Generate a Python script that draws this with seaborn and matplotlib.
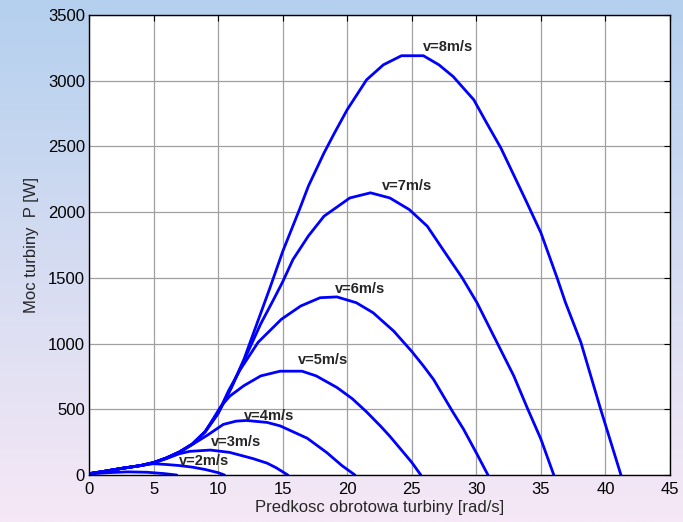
import numpy as np
import pandas as pd
import matplotlib
matplotlib.use("Agg")
import matplotlib.pyplot as plt
import seaborn as sns

# --- data (omega [rad/s], P [W]) ---
w_v1 = [0, 1.5, 3.0, 4.5, 5.8, 6.8]
p_v1 = [8, 18, 24, 21, 11, 0]

w_v2 = [0, 1, 2.5, 4, 5, 6, 7, 8, 9, 10, 10.5]
p_v2 = [10, 25, 50, 72, 86, 80, 72, 60, 42, 18, 0]

w_v3 = [0, 1, 2.5, 4, 5, 6, 7, 7.8, 9.4, 10.9, 12.7, 13.8, 14.5, 15.4]
p_v3 = [10, 25, 50, 72, 92, 125, 162, 180, 190, 172, 125, 90, 55, 0]

w_v4 = [0, 1, 2.5, 4, 5, 6, 7, 8, 9.2, 10.4, 11.4, 12.2, 13.8, 14.8, 16.9, 18.4, 19.6, 20.6]
p_v4 = [10, 25, 50, 72, 93, 128, 172, 232, 305, 385, 410, 415, 400, 374, 280, 172, 71, 0]

w_v5 = [0, 1, 2.5, 4, 5, 6, 7, 8, 9, 10.2, 10.9, 12.0, 13.3, 14.8, 16.5, 17.6, 19.2, 20.4, 21.5,
        22.6, 23.3, 24.2, 25.0, 25.7]
p_v5 = [10, 25, 50, 72, 94, 130, 175, 235, 330, 520, 600, 680, 754, 790, 790, 754, 666, 580, 480,
        370, 295, 190, 96, 0]

w_v6 = [0, 1, 2.5, 4, 5, 6, 7, 8, 9, 10, 10.8, 11.7, 13.1, 14.9, 16.4, 17.9, 19.2, 20.7, 22.0,
        23.6, 25.0, 25.9, 26.7, 27.3, 28.2, 29.0, 30.05, 30.9]
p_v6 = [10, 25, 50, 72, 95, 130, 175, 235, 330, 470, 640, 800, 1010, 1185, 1286, 1349, 1355, 1311, 1235,
        1095, 940, 830, 725, 625, 476, 350, 159, 0]

w_v7 = [0, 1, 2.5, 4, 5, 6, 7, 8, 9, 10, 11, 12, 13.3, 14.3, 15.0, 15.8, 17.0, 18.2, 20.2, 21.8,
        23.3, 24.8, 26.2, 27.5, 28.9, 30.05, 31.6, 32.9, 33.95, 35.0, 36.0]
p_v7 = [10, 25, 50, 72, 95, 130, 175, 235, 330, 470, 660, 870, 1150, 1336, 1470, 1640, 1820, 1969, 2108, 2147,
        2108, 2020, 1893, 1703, 1501, 1311, 1008, 754, 509, 273, 0]

w_v8 = [0, 1, 2.5, 4, 5, 6, 7, 8, 9, 10, 11, 12, 13, 14, 15, 16.3, 17, 18.2, 19, 20, 21.5, 22.8,
        24.2, 25.9, 27.1, 28.2, 29.8, 30.8, 31.9, 33.8, 35.0, 36.25, 36.9, 38.1, 39.6, 41.2]
p_v8 = [10, 25, 50, 72, 95, 130, 175, 235, 330, 470, 660, 880, 1150, 1420, 1700, 2020, 2200, 2450, 2600,
        2780, 3007, 3121, 3190, 3190, 3121, 3032, 2855, 2678, 2488, 2096, 1843, 1501, 1313, 1008, 509, 0]

speeds = [1, 2, 3, 4, 5, 6, 7, 8]
curve_w = [w_v1, w_v2, w_v3, w_v4, w_v5, w_v6, w_v7, w_v8]
curve_p = [p_v1, p_v2, p_v3, p_v4, p_v5, p_v6, p_v7, p_v8]

# labels: text, left x, centre y
label_txt = ["v=2m/s", "v=3m/s", "v=4m/s", "v=5m/s", "v=6m/s", "v=7m/s", "v=8m/s"]
label_x = [6.95, 9.43, 12.0, 16.2, 19.07, 22.7, 25.9]
label_y = [104, 248, 450, 875, 1412, 2197, 3255]

xticks = [0, 5, 10, 15, 20, 25, 30, 35, 40, 45]
yticks = [0, 500, 1000, 1500, 2000, 2500, 3000, 3500]

rows = []
for v, ws, ps in zip(speeds, curve_w, curve_p):
    for i, (w, p) in enumerate(zip(ws, ps)):
        rows.append({"v": v, "idx": i, "w": w, "P": p})
df = pd.DataFrame(rows)

sns.set_style("white")
plt.rcParams['font.family'] = ['Liberation Sans', 'DejaVu Sans']

fig = plt.figure(figsize=(6.83, 5.22), dpi=100)

# gradient background (light blue -> light pink)
bg = fig.add_axes([0, 0, 1, 1], zorder=-10)
top = np.array([180, 208, 238]) / 255.0
bot = np.array([246, 232, 246]) / 255.0
t = np.linspace(0, 1, 256)[:, None]
grad = (top[None, :] * (1 - t) + bot[None, :] * t)[:, None, :]
bg.imshow(grad, aspect='auto', extent=[0, 1, 0, 1])
bg.set_axis_off()

ax = fig.add_axes([0.1303, 0.0900, 0.8507, 0.8813])
ax.set_facecolor('white')

sns.lineplot(data=df, x="w", y="P", hue="v", units="v", estimator=None, sort=False,
             palette=["#0000ff"] * len(speeds), legend=False, linewidth=2.0, ax=ax)

for txt, lx, ly in zip(label_txt, label_x, label_y):
    ax.text(lx, ly, txt, fontsize=10.5, fontweight='bold', ha='left', va='center')

ax.set_xlim(0, 45)
ax.set_ylim(0, 3500)
ax.set_xticks(xticks)
ax.set_yticks(yticks)
ax.grid(True, color='#a0a0a0', linewidth=0.9)
ax.tick_params(direction='in', top=True, right=True, length=4, width=0.8,
               labelsize=12, colors='black')
ax.tick_params(axis='x', pad=5)
ax.tick_params(axis='y', pad=3)
for s in ax.spines.values():
    s.set_color('black')
    s.set_linewidth(1.0)

ax.set_xlabel("Predkosc obrotowa turbiny [rad/s]", fontsize=12, labelpad=2)
ax.set_ylabel("Moc turbiny  P [W]", fontsize=12, labelpad=6)

fig.savefig("out.png", dpi=100)
